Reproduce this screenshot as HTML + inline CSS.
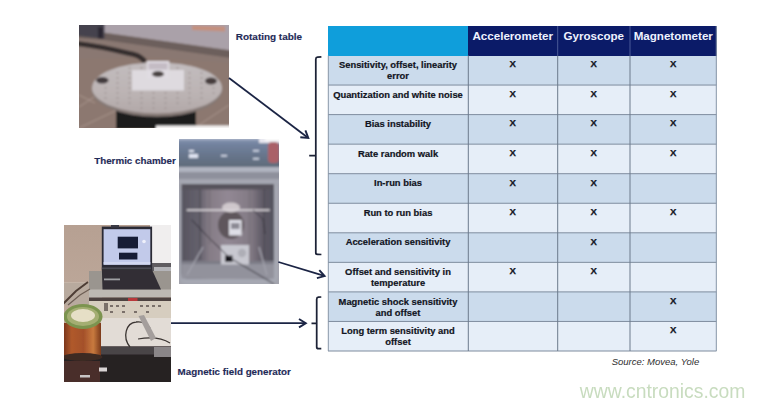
<!DOCTYPE html>
<html><head><meta charset="utf-8">
<style>
*{margin:0;padding:0;box-sizing:border-box}
html,body{width:764px;height:407px;background:#fff;overflow:hidden;position:relative;font-family:"Liberation Sans",sans-serif}
.a{position:absolute}
.lbl{position:absolute;font-weight:bold;font-size:9.95px;color:#1f2b58;-webkit-text-stroke:0.15px #1f2b58;white-space:nowrap;line-height:1}
.hd{position:absolute;top:26px;height:29.5px;background:#0b1b68;color:#eef2ff;font-weight:bold;font-size:11.6px;line-height:1;text-align:center;padding-top:3.6px;white-space:nowrap}
.r{position:absolute;left:328px;width:388.5px}
.c1{position:absolute;font-weight:bold;font-size:9.4px;line-height:11.2px;color:#111422;-webkit-text-stroke:0.2px #111422;text-align:center;white-space:nowrap}
.x{position:absolute;font-weight:bold;font-size:9.6px;line-height:1;color:#111422;-webkit-text-stroke:0.25px #111422;width:20px;text-align:center}
</style></head><body>

<!-- Photo 1: rotating table -->
<div class="a" id="p1" style="left:79px;top:25px;width:150px;height:103px;overflow:hidden;background:#8a7e78">
<svg width="150" height="103" viewBox="0 0 150 103">
<defs><filter id="b1" x="-5%" y="-5%" width="110%" height="110%"><feGaussianBlur stdDeviation="0.8"/></filter>
<linearGradient id="g1disc" x1="0" y1="0" x2="0" y2="1"><stop offset="0" stop-color="#c2bcbe"/><stop offset="0.6" stop-color="#bcb4b4"/><stop offset="1" stop-color="#b2a8a8"/></linearGradient>
</defs>
<g filter="url(#b1)">
<rect x="-2" y="-2" width="154" height="107" fill="#8a7872"/>
<polygon points="-2,34 70,32 150,38 150,105 -2,105" fill="#8c7870"/>
<polygon points="-2,-2 152,-2 152,25.5 25.5,7.8 -2,7.8" fill="#aaa1a9"/>
<path d="M25.5,8.3 L152,26" stroke="#b4a8a6" stroke-width="1" fill="none"/>
<polygon points="-2,7.8 25.5,7.8 152,25.5 152,33 25.5,15 -2,13" fill="#6c5f5c"/>
<polygon points="-2,-2 25.5,-2 25.5,13.7 -2,10.8" fill="#45434d"/>
<rect x="19" y="2" width="5" height="11.5" fill="#2a2830"/>
<polygon points="113,0.5 146,1.5 146,6.5 113,5" fill="#c4907e"/>
<path d="M-2,18.6 C20,21 40,26 55,29.5 C61,31 64,34 66,37" stroke="#342e2e" stroke-width="5" fill="none"/>
<path d="M0,82 L18,70 M0,70 L16,78 M112,40 L100,55 M0,103 L40,84 M120,100 L150,80" stroke="#ab9790" stroke-width="0.9" fill="none"/>
<rect x="37" y="84" width="80" height="20" fill="#1c1a1c"/>
<ellipse cx="78" cy="65.5" rx="65" ry="26.3" fill="#857976"/>
<ellipse cx="78" cy="62.9" rx="65" ry="25.5" fill="url(#g1disc)"/>
<ellipse cx="23.3" cy="55.3" rx="6.2" ry="3.3" fill="#423a3c"/>
<ellipse cx="132" cy="56" rx="6" ry="3.5" fill="#463e3e"/>
<rect x="53" y="45" width="52" height="20.5" fill="#dedadf"/>
<rect x="67.7" y="36" width="22.6" height="18" fill="#e0dce2"/>
<rect x="69.5" y="38" width="19" height="6.5" fill="#c4bcc4"/>
<ellipse cx="79" cy="49" rx="6" ry="3" fill="#4a4242"/>
<g fill="#9c9090"><ellipse cx="50.5" cy="43.0" rx="1.2" ry="0.8"/><ellipse cx="62.5" cy="43.0" rx="1.2" ry="0.8"/><ellipse cx="98.5" cy="43.0" rx="1.2" ry="0.8"/><ellipse cx="38.5" cy="48.0" rx="1.2" ry="0.8"/><ellipse cx="50.5" cy="48.0" rx="1.2" ry="0.8"/><ellipse cx="110.5" cy="48.0" rx="1.2" ry="0.8"/><ellipse cx="122.5" cy="48.0" rx="1.2" ry="0.8"/><ellipse cx="38.5" cy="53.0" rx="1.2" ry="0.8"/><ellipse cx="50.5" cy="53.0" rx="1.2" ry="0.8"/><ellipse cx="110.5" cy="53.0" rx="1.2" ry="0.8"/><ellipse cx="122.5" cy="53.0" rx="1.2" ry="0.8"/><ellipse cx="38.5" cy="58.0" rx="1.2" ry="0.8"/><ellipse cx="50.5" cy="58.0" rx="1.2" ry="0.8"/><ellipse cx="110.5" cy="58.0" rx="1.2" ry="0.8"/><ellipse cx="122.5" cy="58.0" rx="1.2" ry="0.8"/><ellipse cx="26.5" cy="63.0" rx="1.2" ry="0.8"/><ellipse cx="38.5" cy="63.0" rx="1.2" ry="0.8"/><ellipse cx="50.5" cy="63.0" rx="1.2" ry="0.8"/><ellipse cx="110.5" cy="63.0" rx="1.2" ry="0.8"/><ellipse cx="122.5" cy="63.0" rx="1.2" ry="0.8"/><ellipse cx="134.5" cy="63.0" rx="1.2" ry="0.8"/><ellipse cx="26.5" cy="68.0" rx="1.2" ry="0.8"/><ellipse cx="38.5" cy="68.0" rx="1.2" ry="0.8"/><ellipse cx="50.5" cy="68.0" rx="1.2" ry="0.8"/><ellipse cx="62.5" cy="68.0" rx="1.2" ry="0.8"/><ellipse cx="74.5" cy="68.0" rx="1.2" ry="0.8"/><ellipse cx="86.5" cy="68.0" rx="1.2" ry="0.8"/><ellipse cx="98.5" cy="68.0" rx="1.2" ry="0.8"/><ellipse cx="110.5" cy="68.0" rx="1.2" ry="0.8"/><ellipse cx="122.5" cy="68.0" rx="1.2" ry="0.8"/><ellipse cx="134.5" cy="68.0" rx="1.2" ry="0.8"/><ellipse cx="26.5" cy="73.0" rx="1.2" ry="0.8"/><ellipse cx="38.5" cy="73.0" rx="1.2" ry="0.8"/><ellipse cx="50.5" cy="73.0" rx="1.2" ry="0.8"/><ellipse cx="62.5" cy="73.0" rx="1.2" ry="0.8"/><ellipse cx="74.5" cy="73.0" rx="1.2" ry="0.8"/><ellipse cx="86.5" cy="73.0" rx="1.2" ry="0.8"/><ellipse cx="98.5" cy="73.0" rx="1.2" ry="0.8"/><ellipse cx="110.5" cy="73.0" rx="1.2" ry="0.8"/><ellipse cx="122.5" cy="73.0" rx="1.2" ry="0.8"/><ellipse cx="38.5" cy="78.0" rx="1.2" ry="0.8"/><ellipse cx="50.5" cy="78.0" rx="1.2" ry="0.8"/><ellipse cx="62.5" cy="78.0" rx="1.2" ry="0.8"/><ellipse cx="74.5" cy="78.0" rx="1.2" ry="0.8"/><ellipse cx="86.5" cy="78.0" rx="1.2" ry="0.8"/><ellipse cx="98.5" cy="78.0" rx="1.2" ry="0.8"/><ellipse cx="110.5" cy="78.0" rx="1.2" ry="0.8"/><ellipse cx="62.5" cy="83.0" rx="1.2" ry="0.8"/><ellipse cx="74.5" cy="83.0" rx="1.2" ry="0.8"/><ellipse cx="86.5" cy="83.0" rx="1.2" ry="0.8"/></g>
<rect x="77" y="100.5" width="75" height="5" fill="#f4f2f2"/>
</g>
</svg></div>

<!-- Photo 2: thermic chamber -->
<div class="a" id="p2" style="left:179px;top:139px;width:99.5px;height:144.5px;overflow:hidden;background:#a6a7ae">
<svg width="100" height="145" viewBox="0 0 100 145">
<defs><filter id="b2" x="-5%" y="-5%" width="110%" height="110%"><feGaussianBlur stdDeviation="0.8"/></filter>
<linearGradient id="g2p" x1="0" y1="0" x2="0" y2="1"><stop offset="0" stop-color="#8e9cba"/><stop offset="0.25" stop-color="#72829e"/><stop offset="0.65" stop-color="#66748a"/><stop offset="1" stop-color="#606c7a"/></linearGradient>
<linearGradient id="g2in" x1="0" y1="0" x2="1" y2="0"><stop offset="0" stop-color="#56545f"/><stop offset="0.2" stop-color="#66626e"/><stop offset="0.3" stop-color="#857c86"/><stop offset="0.5" stop-color="#928894"/><stop offset="0.75" stop-color="#827a84"/><stop offset="0.85" stop-color="#66606c"/><stop offset="1" stop-color="#52525c"/></linearGradient>
<linearGradient id="g2fl" x1="0" y1="0" x2="0" y2="1"><stop offset="0" stop-color="#66646c"/><stop offset="1" stop-color="#84848e"/></linearGradient>
</defs>
<g filter="url(#b2)">
<rect x="-2" y="-2" width="104" height="150" fill="#a2a3ac"/>
<rect x="-2" y="-2" width="104" height="30" fill="url(#g2p)"/>
<rect x="-2" y="-2" width="104" height="2.5" fill="#b8c0d0"/>
<rect x="80" y="-2" width="22" height="6" fill="#e8e8f0"/>
<rect x="86" y="-2" width="16" height="4" fill="#fafafa"/>
<rect x="89" y="3" width="11" height="21" rx="4" fill="#aa6068"/>
<g fill="#dfe4f2"><rect x="10" y="11" width="5" height="2"/><rect x="10" y="15" width="9" height="4"/><rect x="42" y="16" width="6" height="1.5"/><rect x="74" y="11" width="6" height="1.5"/><rect x="74" y="19" width="6" height="1.5"/></g>
<rect x="-2" y="28" width="104" height="5" fill="#b0b4c0"/>
<rect x="-2" y="33" width="104" height="7" fill="#8e909c"/>
<rect x="-2" y="40" width="104" height="5" fill="#a4a6b0"/>
<rect x="0.5" y="43" width="98" height="102" rx="7" fill="#a6a8b2"/>
<rect x="2.5" y="45" width="92.5" height="94.5" rx="5" fill="url(#g2in)"/>
<rect x="2.5" y="45" width="92.5" height="5.5" fill="#57535c"/>
<polygon points="2.5,122 95,122 95,134 2.5,134" fill="#7c7c86"/>
<polygon points="2.5,125 95,125 95,139.5 2.5,139.5" fill="#92929c"/>
<rect x="20" y="50" width="2" height="70" fill="#4e4c56" opacity="0.7"/>
<rect x="84" y="50" width="2.5" height="70" fill="#4e4c56" opacity="0.7"/>
<rect x="30" y="50" width="1.2" height="55" fill="#6a6670" opacity="0.6"/>
<rect x="70" y="50" width="1.2" height="55" fill="#6a6670" opacity="0.6"/>
<ellipse cx="52" cy="86" rx="13" ry="14" fill="#5e565c"/>
<ellipse cx="52" cy="68.5" rx="9" ry="5" fill="#cfc7cc"/>
<rect x="7.7" y="70.3" width="83" height="1.6" fill="#dcd8dc"/>
<rect x="50" y="81" width="12.7" height="15.5" fill="#dedee6"/>
<rect x="52" y="84" width="8.5" height="6" fill="#8c8a94"/>
<rect x="42" y="106" width="28" height="19.5" fill="#c8c8d0"/>
<rect x="46" y="116.6" width="7.5" height="6.4" fill="#18161c"/>
<circle cx="63" cy="114" r="4.2" fill="#aeaeb6"/>
<path d="M12.8,80.8 L30,99 L51,119 L75,133 L95,145" stroke="#26242c" stroke-width="1" fill="none"/>
<path d="M74,71 L84,80 L86,95" stroke="#33313a" stroke-width="0.9" fill="none"/>
<path d="M8,136 L24,108 M88,136 L80,108" stroke="#a2a2ac" stroke-width="1.4" fill="none"/>
</g>
</svg></div>

<!-- Photo 3: magnetic field generator -->
<div class="a" id="p3" style="left:64px;top:225px;width:107px;height:156.5px;overflow:hidden;background:#9a8a80">
<svg width="107" height="157" viewBox="0 0 107 157">
<defs><filter id="b3" x="-5%" y="-5%" width="110%" height="110%"><feGaussianBlur stdDeviation="0.75"/></filter>
<linearGradient id="g3cu" x1="0" y1="0" x2="1" y2="0"><stop offset="0" stop-color="#6e2e18"/><stop offset="0.25" stop-color="#b05a2c"/><stop offset="0.55" stop-color="#a4502a"/><stop offset="0.8" stop-color="#c87a3e"/><stop offset="1" stop-color="#7a3a1c"/></linearGradient>
<linearGradient id="g3w" x1="0" y1="0" x2="0" y2="1"><stop offset="0" stop-color="#b6a092"/><stop offset="1" stop-color="#c4b0a2"/></linearGradient>
</defs>
<g filter="url(#b3)">
<rect x="-2" y="-2" width="111" height="161" fill="url(#g3w)"/>
<rect x="-2" y="57.5" width="40" height="22.5" fill="#d0c4b8"/>
<rect x="86" y="-2" width="23" height="44" fill="#f0eeee"/>
<rect x="86" y="38" width="23" height="26" fill="#5e5c60"/>
<rect x="90" y="42" width="17" height="7" fill="#b4b4b8"/>
<rect x="25" y="46" width="84" height="20" fill="#9a958f"/>
<rect x="25" y="64.5" width="84" height="8" fill="#bdb9b3"/>
<rect x="37.8" y="1.6" width="50.3" height="44" fill="#2a2a36"/>
<rect x="47" y="-0.5" width="8" height="3" fill="#3a3a44"/>
<rect x="39.6" y="4.2" width="46.7" height="35.6" fill="#c2caea"/>
<rect x="39.6" y="37" width="46.7" height="2.5" fill="#d2d8f0"/>
<rect x="53.7" y="11.7" width="20.3" height="11.7" fill="#161c36"/>
<rect x="55" y="27.7" width="18.4" height="6.8" fill="#161c36"/>
<circle cx="80" cy="16.5" r="1.8" fill="#eef0fa"/>
<polygon points="37.8,42.5 87,42.5 97,64.5 38.5,64.5" fill="#302e34"/>
<rect x="38" y="42.5" width="49" height="1.6" fill="#4a4a52"/>
<rect x="40" y="53.5" width="16" height="1.8" fill="#a0a0a4"/>
<rect x="22" y="72.5" width="87" height="3.5" fill="#4e4240"/>
<rect x="22" y="76" width="87" height="17" fill="#d6cdbf"/>
<g fill="#7a706a"><rect x="46" y="80" width="3" height="2"/><rect x="52" y="80" width="3" height="2"/><rect x="58" y="80" width="3" height="2"/><rect x="76" y="80" width="3" height="2"/><rect x="82" y="80" width="3" height="2"/><rect x="88" y="80" width="3" height="2"/><rect x="94" y="80" width="3" height="2"/><rect x="46" y="86" width="3" height="2"/><rect x="58" y="86" width="3" height="2"/><rect x="70" y="86" width="3" height="2"/><rect x="82" y="86" width="3" height="2"/><rect x="40" y="78" width="4" height="8"/></g>
<rect x="64" y="73" width="9.5" height="3" fill="#b8383a"/>
<rect x="37" y="93" width="70" height="29.5" fill="#e2dcd6"/>
<polygon points="-2,58 25,58 25,80 -2,80" fill="#b8aa9e"/>
<path d="M-2,80 L12,66 L24,57" stroke="#4e3e34" stroke-width="2" fill="none"/>
<path d="M4,80 L16,70 L26,64" stroke="#6e5e54" stroke-width="1.2" fill="none"/>
<rect x="-2" y="121.5" width="111" height="37" fill="#262022"/>
<rect x="-2" y="121.5" width="111" height="8" fill="#4a4446"/>
<rect x="90" y="122" width="19" height="10" fill="#8a8688"/>
<rect x="-2" y="136" width="38" height="22" fill="#4a2e2c"/>
<rect x="35" y="142.5" width="8" height="4" fill="#d8d4d4"/>
<rect x="16" y="150" width="10" height="2.5" fill="#c8c4c4"/>
<rect x="-2" y="98" width="39" height="34" fill="url(#g3cu)"/>
<ellipse cx="18.5" cy="132" rx="20" ry="4" fill="#3c2a24"/>
<ellipse cx="19" cy="91.5" rx="19.5" ry="12.5" fill="#7c9450"/>
<ellipse cx="19" cy="91.5" rx="16" ry="9.5" fill="#a4ae72"/>
<ellipse cx="19" cy="90.5" rx="12" ry="6.5" fill="#e6dfc6"/>
<path d="M66,122 C58,112 62,98 72,97 C80,96 84,100 86,103" stroke="#3a3432" stroke-width="1.3" fill="none"/>
<path d="M74,114 C86,112 98,113 106,118" stroke="#3a3432" stroke-width="1.2" fill="none"/>
<polygon points="74.5,91 80,90 92,113 87,116" fill="#a49e9c"/>
</g>
</svg></div>

<div class="lbl" style="left:235.8px;top:32.4px">Rotating table</div>
<div class="lbl" style="left:94.2px;top:155.8px;font-size:9.8px">Thermic chamber</div>
<div class="lbl" style="left:177.6px;top:366.6px;font-size:9.8px">Magnetic field generator</div>

<!-- table -->
<div class="a" style="left:328px;top:26px;width:140px;height:29.5px;background:#0f9edb"></div>
<div class="hd" style="left:468px;width:89.5px">Accelerometer</div>
<div class="hd" style="left:557.5px;width:72.5px">Gyroscope</div>
<div class="hd" style="left:630px;width:86.5px">Magnetometer</div>

<div class="r" style="top:55.50px;height:29.55px;background:#cbdbec"></div>
<div class="c1" style="left:328px;width:140px;top:59.10px">Sensitivity, offset, linearity<br>error</div>
<div class="x" style="left:502.75px;top:59.30px">X</div>
<div class="x" style="left:583.75px;top:59.30px">X</div>
<div class="x" style="left:663.25px;top:59.30px">X</div>
<div class="r" style="top:85.05px;height:29.55px;background:#e6eef8"></div>
<div class="c1" style="left:328px;width:140px;top:88.65px">Quantization and white noise</div>
<div class="x" style="left:502.75px;top:88.85px">X</div>
<div class="x" style="left:583.75px;top:88.85px">X</div>
<div class="x" style="left:663.25px;top:88.85px">X</div>
<div class="r" style="top:114.60px;height:29.55px;background:#cbdbec"></div>
<div class="c1" style="left:328px;width:140px;top:118.20px">Bias instability</div>
<div class="x" style="left:502.75px;top:118.40px">X</div>
<div class="x" style="left:583.75px;top:118.40px">X</div>
<div class="x" style="left:663.25px;top:118.40px">X</div>
<div class="r" style="top:144.15px;height:29.55px;background:#e6eef8"></div>
<div class="c1" style="left:328px;width:140px;top:147.75px">Rate random walk</div>
<div class="x" style="left:502.75px;top:147.95px">X</div>
<div class="x" style="left:583.75px;top:147.95px">X</div>
<div class="x" style="left:663.25px;top:147.95px">X</div>
<div class="r" style="top:173.70px;height:29.55px;background:#cbdbec"></div>
<div class="c1" style="left:328px;width:140px;top:177.30px">In-run bias</div>
<div class="x" style="left:502.75px;top:177.50px">X</div>
<div class="x" style="left:583.75px;top:177.50px">X</div>
<div class="r" style="top:203.25px;height:29.55px;background:#e6eef8"></div>
<div class="c1" style="left:328px;width:140px;top:206.85px">Run to run bias</div>
<div class="x" style="left:502.75px;top:207.05px">X</div>
<div class="x" style="left:583.75px;top:207.05px">X</div>
<div class="x" style="left:663.25px;top:207.05px">X</div>
<div class="r" style="top:232.80px;height:29.55px;background:#cbdbec"></div>
<div class="c1" style="left:328px;width:140px;top:236.40px">Acceleration sensitivity</div>
<div class="x" style="left:583.75px;top:236.60px">X</div>
<div class="r" style="top:262.35px;height:29.55px;background:#e6eef8"></div>
<div class="c1" style="left:328px;width:140px;top:265.95px">Offset and sensitivity in<br>temperature</div>
<div class="x" style="left:502.75px;top:266.15px">X</div>
<div class="x" style="left:583.75px;top:266.15px">X</div>
<div class="r" style="top:291.90px;height:29.55px;background:#cbdbec"></div>
<div class="c1" style="left:328px;width:140px;top:295.50px">Magnetic shock sensitivity<br>and offset</div>
<div class="x" style="left:663.25px;top:295.70px">X</div>
<div class="r" style="top:321.45px;height:29.55px;background:#e6eef8"></div>
<div class="c1" style="left:328px;width:140px;top:325.05px">Long term sensitivity and<br>offset</div>
<div class="x" style="left:663.25px;top:325.25px">X</div>

<svg class="a" style="left:0;top:0" width="764" height="407" viewBox="0 0 764 407">
<line x1="328" y1="85.05" x2="716.5" y2="85.05" stroke="#7e8c9e" stroke-width="1"/>
<line x1="328" y1="114.60" x2="716.5" y2="114.60" stroke="#7e8c9e" stroke-width="1"/>
<line x1="328" y1="144.15" x2="716.5" y2="144.15" stroke="#7e8c9e" stroke-width="1"/>
<line x1="328" y1="173.70" x2="716.5" y2="173.70" stroke="#7e8c9e" stroke-width="1"/>
<line x1="328" y1="203.25" x2="716.5" y2="203.25" stroke="#7e8c9e" stroke-width="1"/>
<line x1="328" y1="232.80" x2="716.5" y2="232.80" stroke="#7e8c9e" stroke-width="1"/>
<line x1="328" y1="262.35" x2="716.5" y2="262.35" stroke="#7e8c9e" stroke-width="1"/>
<line x1="328" y1="291.90" x2="716.5" y2="291.90" stroke="#7e8c9e" stroke-width="1"/>
<line x1="328" y1="321.45" x2="716.5" y2="321.45" stroke="#7e8c9e" stroke-width="1"/>
<line x1="328" y1="351.00" x2="716.5" y2="351.00" stroke="#7e8c9e" stroke-width="1"/>
<line x1="468.3" y1="55.5" x2="468.3" y2="351" stroke="#6c7a8c" stroke-width="1"/>
<line x1="557.7" y1="55.5" x2="557.7" y2="351" stroke="#6c7a8c" stroke-width="1"/>
<line x1="630" y1="55.5" x2="630" y2="351" stroke="#6c7a8c" stroke-width="1"/>
<line x1="328.3" y1="55.5" x2="328.3" y2="351" stroke="#8a98a8" stroke-width="1"/>
<line x1="716.3" y1="26" x2="716.3" y2="351" stroke="#8a98a8" stroke-width="1"/>
<line x1="557.7" y1="26" x2="557.7" y2="55.5" stroke="#4a5a98" stroke-width="1"/>
<line x1="630" y1="26" x2="630" y2="55.5" stroke="#4a5a98" stroke-width="1"/>
</svg>

<svg class="a" style="left:0;top:0" width="764" height="407" viewBox="0 0 764 407">
<path d="M229,78 L307.3,137.2" stroke="#1b2444" stroke-width="1.8" fill="none"/>
<path d="M305.4,130.4 L308.3,137.9 L300.3,137.2" stroke="#1b2444" stroke-width="1.9" fill="none" stroke-linejoin="miter"/>
<path d="M278.4,262 L323.5,275.7" stroke="#1b2444" stroke-width="1.8" fill="none"/>
<path d="M319.3,270.1 L324.6,276.1 L316.9,278.2" stroke="#1b2444" stroke-width="1.9" fill="none" stroke-linejoin="miter"/>
<path d="M171,323.2 L304.6,323.2" stroke="#1b2444" stroke-width="1.8" fill="none"/>
<path d="M299.0,319.0 L305.8,323.2 L299.0,327.4" stroke="#1b2444" stroke-width="1.9" fill="none" stroke-linejoin="miter"/>
<path d="M321.4,56.9 L317.6,57.2 Q315.8,57.4 315.8,59.2 L315.8,252.7 Q315.8,254.4 317.6,254.4 L321.4,254.5 M309.2,155.7 L315.8,155.7" stroke="#1c2236" stroke-width="1.75" fill="none"/>
<path d="M321.3,297 L318.5,297.2 Q316.7,297.4 316.7,299.2 L316.7,346.9 Q316.7,348.6 318.5,348.6 L321.3,348.6 M311.5,323.4 L316.7,323.4" stroke="#1c2236" stroke-width="1.75" fill="none"/>
</svg>
<div class="a" style="left:611.7px;top:357.2px;font-style:italic;font-size:9.5px;color:#2e2e2e;white-space:nowrap;line-height:1">Source: Movea, Yole</div>
<div class="a" style="left:579.8px;top:381.8px;font-size:19.35px;color:#c8dcbf;white-space:nowrap;line-height:1;transform:scaleY(1.07);transform-origin:0 16.3px">www.cntronics.com</div>
</body></html>
